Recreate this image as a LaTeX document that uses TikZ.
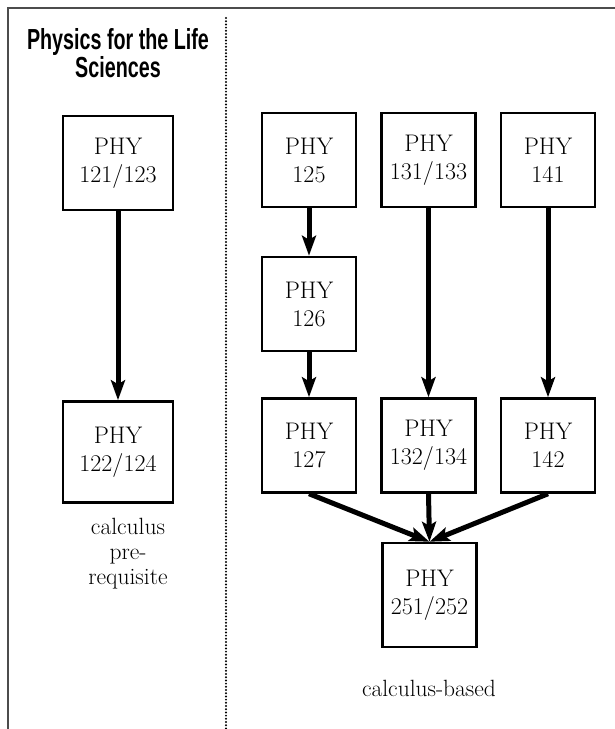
\documentclass[tikz,border=0pt]{standalone}
\usepackage{fontspec}
\usepackage{tikz}
\usetikzlibrary{arrows.meta}
\newfontfamily\headfont[FakeStretch=0.68]{Liberation Sans}
\tikzset{course/.style = {draw, line width = 2.5, inner sep = 0, minimum width = 94, minimum height = 94, align = center, font = \fontsize{24}{28}\selectfont}}
\tikzset{wide/.style = {minimum width = 110}}
\tikzset{req/.style = {-{Stealth[length = 20pt, width = 14pt, inset = 4pt]}, line width = 5}}
\tikzset{note/.style = {align = center, font = \fontsize{23.5}{25}\selectfont}}

\begin{document}
\begin{tikzpicture}[x = 1pt, y = -1pt]
    \useasboundingbox (0, 0) rectangle (615, 729);
    \draw [line width = 1.5, black!70] (8, 729) -- (8, 8) -- (615, 8);
    \draw [line width = 2.2, dash pattern = on 0pt off 3.2pt, line cap = round] (226, 18) -- (226, 729);

    \node (title) [align = center, font = \headfont\bfseries\fontsize{29}{28}\selectfont] at (118, 53) {Physics for the Life\\Sciences};

    % life sciences track
    \node (p121) [course, wide] at (118, 163) {PHY\\121/123};
    \node (p122) [course, wide, minimum height = 101] at (118, 452) {PHY\\122/124};
    \node (pre) [note] at (128, 554) {calculus\\pre-\\requisite};
    \draw [req] (p121) -- (p122);

    % calculus-based track
    \node (p125) [course] at (309, 160) {PHY\\125};
    \node (p131) [course] at (428.5, 160) {PHY\\131/133};
    \node (p141) [course] at (548, 160) {PHY\\141};
    \node (p126) [course] at (309, 304) {PHY\\126};
    \node (p127) [course] at (309, 445.5) {PHY\\127};
    \node (p132) [course] at (428.5, 445.5) {PHY\\132/134};
    \node (p142) [course] at (548, 445.5) {PHY\\142};
    \node (p251) [course, minimum height = 104] at (429.5, 595) {PHY\\251/252};
    \node (based) [note] at (429, 688) {calculus-based};

    \draw [req] (p125) -- (p126);
    \draw [req] (p126) -- (p127);
    \draw [req] (p131) -- (p132);
    \draw [req] (p141) -- (p142);

    \draw [req] (p127.south) -- (p251.north);
    \draw [req] (p132.south) -- (p251.north);
    \draw [req] (p142.south) -- (p251.north);
  \end{tikzpicture}
\end{document}
